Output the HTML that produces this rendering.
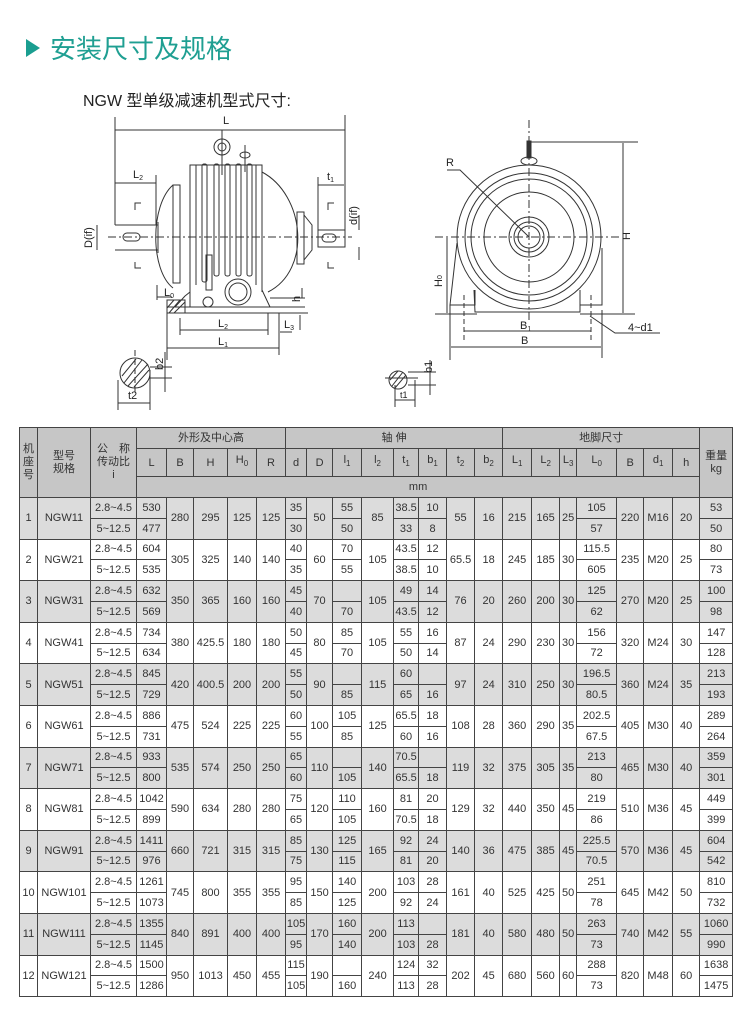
<!DOCTYPE html>
<html><head><meta charset="utf-8">
<style>
body{margin:0;width:750px;height:1015px;background:#fff;position:relative;overflow:hidden;font-family:"Liberation Sans","Noto Sans CJK SC",sans-serif;}
svg{position:absolute;left:0;top:0}
table{position:absolute;left:19px;top:427px;border-collapse:collapse;table-layout:fixed;width:713px;font-size:11px;color:#333;}
td{border:1px solid #444;text-align:center;padding:0;height:19.8px;line-height:12px;overflow:hidden;white-space:nowrap}
tr.h td{background:#c6c6c6}
tbody.g td{background:#dcdcdc}
tbody.w td{background:#fff}
</style></head><body>
<svg width="750" height="420" viewBox="0 0 750 420" font-family="Liberation Sans, Noto Sans CJK SC, sans-serif">
<polygon points="26,39 26,57 40,48" fill="#1a9e90"/>
<text x="50" y="58" font-size="26" fill="#1f9f92" font-family="Liberation Sans, Noto Sans CJK SC, sans-serif">安装尺寸及规格</text>
<text x="83" y="106" font-size="16" fill="#222">NGW 型单级减速机型式尺寸:</text>
<g stroke="#333" stroke-width="1" fill="none">
<!-- L -->
<line x1="115" y1="117" x2="115" y2="225"/><line x1="345" y1="115" x2="345" y2="247"/>
<line x1="115" y1="130" x2="345" y2="130"/>
<!-- body -->
<path d="M173,185 C150,205 150,270 173,288"/>
<path d="M262,172 C305,195 312,270 268,292"/>
<rect x="173" y="185" width="7" height="98"/>
<rect x="297" y="212" width="7" height="52"/>
<path d="M304,215 L312,225 L312,250 L304,260"/>
<path d="M190,292 L190,165 L262,165 L262,292"/>
<line x1="196" y1="165" x2="196" y2="285"/><line x1="256" y1="165" x2="256" y2="285"/>
<rect x="202" y="164" width="5" height="118" rx="2"/>
<rect x="214" y="164" width="5" height="112" rx="2"/>
<rect x="225" y="164" width="5" height="112" rx="2"/>
<rect x="236" y="164" width="5" height="112" rx="2"/>
<rect x="247" y="164" width="5" height="112" rx="2"/>
<rect x="206" y="255" width="6" height="35"/>
<circle cx="222" cy="147" r="8"/><circle cx="222" cy="147" r="4"/>
<line x1="222" y1="130" x2="222" y2="175"/>
<ellipse cx="245" cy="155" rx="5" ry="3"/><line x1="245" y1="145" x2="245" y2="172"/>
<line x1="115" y1="225" x2="158" y2="225"/><line x1="115" y1="250" x2="158" y2="250"/>
<line x1="158" y1="222" x2="158" y2="253"/>
<rect x="123" y="233" width="17" height="8" rx="4"/>
<rect x="318" y="230" width="27" height="17"/>
<rect x="322" y="234" width="14" height="8" rx="4"/>
<line x1="108" y1="237" x2="352" y2="237" stroke-dasharray="8,3,2,3"/>
<!-- base -->
<path d="M167,307 L305,307 M167,313 L308,313 M185,296 L175,307 M190,290 L190,307 M262,290 L270,307 M185,296 L190,292"/>
<path d="M167,300 L185,300 L185,313 L167,313 Z"/>
<path d="M169,313 L180,300 M174,313 L185,302 M167,308 L174,300" />
<circle cx="238" cy="292" r="13"/><circle cx="238" cy="292" r="9"/>
<circle cx="208" cy="302" r="5"/>
<!-- dims -->
<line x1="115" y1="183" x2="156" y2="183"/><line x1="156" y1="175" x2="156" y2="225"/>
<line x1="318" y1="185" x2="344" y2="185"/><line x1="318" y1="177" x2="318" y2="230"/>
<line x1="97" y1="225" x2="97" y2="250"/>
<line x1="359" y1="215" x2="359" y2="230"/><line x1="359" y1="247" x2="359" y2="260"/>
<path d="M135,210 L135,203 L141,203 M135,262 L135,268 L141,268 M328,210 L328,203 L334,203 M328,262 L328,268 L334,268"/>
<line x1="157" y1="297" x2="172" y2="297"/><line x1="157" y1="285" x2="157" y2="300"/>
<line x1="270" y1="298" x2="305" y2="298"/><line x1="302" y1="288" x2="302" y2="298"/>
<line x1="180" y1="318" x2="180" y2="335"/><line x1="268" y1="313" x2="268" y2="335"/>
<line x1="180" y1="330" x2="268" y2="330"/>
<line x1="280" y1="332" x2="292" y2="332"/><line x1="300" y1="315" x2="300" y2="330"/>
<line x1="167" y1="313" x2="167" y2="360"/><line x1="279" y1="313" x2="279" y2="355"/>
<line x1="167" y1="348" x2="279" y2="348"/>
<!-- section -->
<circle cx="135" cy="373" r="15"/>
<path d="M124,383 L142,360 M128,386 L148,364 M122,376 L136,359 M134,387 L149,370" />
<line x1="118" y1="380" x2="118" y2="410"/><line x1="150" y1="370" x2="150" y2="410"/>
<line x1="118" y1="403" x2="150" y2="403"/>
<line x1="150" y1="367" x2="172" y2="367"/><line x1="150" y1="378" x2="172" y2="378"/>
<line x1="165" y1="352" x2="165" y2="392"/>
<line x1="135" y1="350" x2="135" y2="395" stroke-dasharray="6,3"/>
</g>
<g font-size="11" fill="#222">
<text x="223" y="124">L</text>
<text x="133" y="178">L<tspan font-size="7" dy="2">2</tspan></text>
<text x="327" y="180">t<tspan font-size="7" dy="2">1</tspan></text>
<text transform="translate(92,248) rotate(-90)">D(if)</text>
<text transform="translate(357,225) rotate(-90)">d(if)</text>
<text x="164" y="296">L<tspan font-size="7" dy="2">0</tspan></text>
<text transform="translate(300,302) rotate(-90)">h</text>
<text x="218" y="327">L<tspan font-size="7" dy="2">2</tspan></text>
<text x="284" y="328">L<tspan font-size="7" dy="2">3</tspan></text>
<text x="218" y="345">L<tspan font-size="7" dy="2">1</tspan></text>
<text transform="translate(163,370) rotate(-90)">b2</text>
<text x="128" y="399">t2</text>
</g>
<!-- right drawing -->
<g stroke="#333" stroke-width="1" fill="none">
<line x1="529" y1="120" x2="529" y2="322" stroke-dasharray="8,3,2,3"/>
<line x1="435" y1="237" x2="622" y2="237" stroke-dasharray="8,3,2,3"/>
<rect x="527" y="141" width="4" height="17" fill="#333"/>
<ellipse cx="529" cy="161" rx="8" ry="4"/>
<circle cx="529" cy="237" r="72"/>
<circle cx="529" cy="237" r="64"/>
<circle cx="529" cy="237" r="58"/>
<circle cx="529" cy="237" r="45"/>
<circle cx="529" cy="237" r="20"/>
<circle cx="529" cy="237" r="15"/>
<circle cx="529" cy="237" r="11"/>
<path d="M457,243 L450,305 L475,305 L475,290 M450,305 L450,314"/>
<path d="M602,248 L602,305 L580,305 L580,290"/>
<path d="M474,290 L475,312 L580,312 L580,290"/>
<line x1="435" y1="314" x2="477" y2="314"/><line x1="580" y1="314" x2="635" y2="314"/>
<line x1="464" y1="295" x2="464" y2="340" stroke-dasharray="5,3"/>
<line x1="591" y1="295" x2="591" y2="340" stroke-dasharray="5,3"/>
<line x1="450" y1="310" x2="450" y2="360"/><line x1="602" y1="310" x2="602" y2="358"/>
<line x1="464" y1="331" x2="591" y2="331"/>
<line x1="451" y1="347" x2="601" y2="347"/>
<line x1="447" y1="238" x2="447" y2="313"/>
<line x1="531" y1="142" x2="638" y2="142"/>
<line x1="623" y1="143" x2="623" y2="313"/>
<path d="M447,170 L460,170 L529,237"/>
<path d="M590,316 L615,333 L660,333"/>
<circle cx="398" cy="380" r="9"/>
<path d="M392,386 L403,372 M395,388 L406,375 M390,380 L398,371"/>
<line x1="385" y1="378" x2="418" y2="378"/><line x1="408" y1="372" x2="436" y2="372"/><line x1="408" y1="385" x2="436" y2="385"/>
<line x1="430" y1="360" x2="430" y2="395"/>
<line x1="395" y1="385" x2="395" y2="407"/><line x1="415" y1="380" x2="415" y2="407"/>
<line x1="395" y1="400" x2="415" y2="400"/>
</g>
<g font-size="11" fill="#222">
<text x="446" y="166">R</text>
<text transform="translate(630,240) rotate(-90)">H</text>
<text transform="translate(442,287) rotate(-90)">H<tspan font-size="7">0</tspan></text>
<text x="520" y="329">B<tspan font-size="7" dy="2">1</tspan></text>
<text x="521" y="344">B</text>
<text x="628" y="331">4~d1</text>
<text transform="translate(432,373) rotate(-90)">b1</text>
<text x="400" y="398" font-size="9">t1</text>
</g>
</svg>
<table>
<colgroup><col style="width:18px"><col style="width:53px"><col style="width:46px"><col style="width:30px"><col style="width:27px"><col style="width:34px"><col style="width:29px"><col style="width:29px"><col style="width:21px"><col style="width:26px"><col style="width:29px"><col style="width:32px"><col style="width:25px"><col style="width:28px"><col style="width:28px"><col style="width:28px"><col style="width:29px"><col style="width:28px"><col style="width:17px"><col style="width:40px"><col style="width:27px"><col style="width:29px"><col style="width:27px"><col style="width:33px"></colgroup>
<tr class="h" style="height:21px"><td rowspan="3" style="line-height:13px;white-space:normal">机<br>座<br>号</td><td rowspan="3" style="line-height:13px">型号<br>规格</td><td rowspan="3" style="line-height:13px">公　称<br>传动比<br>i</td><td colspan="5">外形及中心高</td><td colspan="8">轴 伸</td><td colspan="7">地脚尺寸</td><td rowspan="3" style="line-height:13px">重量<br>kg</td></tr>
<tr class="h" style="height:28px"><td>L</td><td>B</td><td>H</td><td>H<sub style="font-size:8px">0</sub></td><td>R</td><td>d</td><td>D</td><td>l<sub style="font-size:8px">1</sub></td><td>l<sub style="font-size:8px">2</sub></td><td>t<sub style="font-size:8px">1</sub></td><td>b<sub style="font-size:8px">1</sub></td><td>t<sub style="font-size:8px">2</sub></td><td>b<sub style="font-size:8px">2</sub></td><td>L<sub style="font-size:8px">1</sub></td><td>L<sub style="font-size:8px">2</sub></td><td>L<sub style="font-size:8px">3</sub></td><td>L<sub style="font-size:8px">0</sub></td><td>B</td><td>d<sub style="font-size:8px">1</sub></td><td>h</td></tr>
<tr class="h" style="height:21px"><td colspan="20">mm</td></tr>
<tbody class="g"><tr><td rowspan="2">1</td><td rowspan="2">NGW11</td><td>2.8~4.5</td><td>530</td><td rowspan="2">280</td><td rowspan="2">295</td><td rowspan="2">125</td><td rowspan="2">125</td><td>35</td><td rowspan="2">50</td><td>55</td><td rowspan="2">85</td><td>38.5</td><td>10</td><td rowspan="2">55</td><td rowspan="2">16</td><td rowspan="2">215</td><td rowspan="2">165</td><td rowspan="2">25</td><td>105</td><td rowspan="2">220</td><td rowspan="2">M16</td><td rowspan="2">20</td><td>53</td></tr><tr><td>5~12.5</td><td>477</td><td>30</td><td>50</td><td>33</td><td>8</td><td>57</td><td>50</td></tr></tbody>
<tbody class="w"><tr><td rowspan="2">2</td><td rowspan="2">NGW21</td><td>2.8~4.5</td><td>604</td><td rowspan="2">305</td><td rowspan="2">325</td><td rowspan="2">140</td><td rowspan="2">140</td><td>40</td><td rowspan="2">60</td><td>70</td><td rowspan="2">105</td><td>43.5</td><td>12</td><td rowspan="2">65.5</td><td rowspan="2">18</td><td rowspan="2">245</td><td rowspan="2">185</td><td rowspan="2">30</td><td>115.5</td><td rowspan="2">235</td><td rowspan="2">M20</td><td rowspan="2">25</td><td>80</td></tr><tr><td>5~12.5</td><td>535</td><td>35</td><td>55</td><td>38.5</td><td>10</td><td>605</td><td>73</td></tr></tbody>
<tbody class="g"><tr><td rowspan="2">3</td><td rowspan="2">NGW31</td><td>2.8~4.5</td><td>632</td><td rowspan="2">350</td><td rowspan="2">365</td><td rowspan="2">160</td><td rowspan="2">160</td><td>45</td><td rowspan="2">70</td><td></td><td rowspan="2">105</td><td>49</td><td>14</td><td rowspan="2">76</td><td rowspan="2">20</td><td rowspan="2">260</td><td rowspan="2">200</td><td rowspan="2">30</td><td>125</td><td rowspan="2">270</td><td rowspan="2">M20</td><td rowspan="2">25</td><td>100</td></tr><tr><td>5~12.5</td><td>569</td><td>40</td><td>70</td><td>43.5</td><td>12</td><td>62</td><td>98</td></tr></tbody>
<tbody class="w"><tr><td rowspan="2">4</td><td rowspan="2">NGW41</td><td>2.8~4.5</td><td>734</td><td rowspan="2">380</td><td rowspan="2">425.5</td><td rowspan="2">180</td><td rowspan="2">180</td><td>50</td><td rowspan="2">80</td><td>85</td><td rowspan="2">105</td><td>55</td><td>16</td><td rowspan="2">87</td><td rowspan="2">24</td><td rowspan="2">290</td><td rowspan="2">230</td><td rowspan="2">30</td><td>156</td><td rowspan="2">320</td><td rowspan="2">M24</td><td rowspan="2">30</td><td>147</td></tr><tr><td>5~12.5</td><td>634</td><td>45</td><td>70</td><td>50</td><td>14</td><td>72</td><td>128</td></tr></tbody>
<tbody class="g"><tr><td rowspan="2">5</td><td rowspan="2">NGW51</td><td>2.8~4.5</td><td>845</td><td rowspan="2">420</td><td rowspan="2">400.5</td><td rowspan="2">200</td><td rowspan="2">200</td><td>55</td><td rowspan="2">90</td><td></td><td rowspan="2">115</td><td>60</td><td></td><td rowspan="2">97</td><td rowspan="2">24</td><td rowspan="2">310</td><td rowspan="2">250</td><td rowspan="2">30</td><td>196.5</td><td rowspan="2">360</td><td rowspan="2">M24</td><td rowspan="2">35</td><td>213</td></tr><tr><td>5~12.5</td><td>729</td><td>50</td><td>85</td><td>65</td><td>16</td><td>80.5</td><td>193</td></tr></tbody>
<tbody class="w"><tr><td rowspan="2">6</td><td rowspan="2">NGW61</td><td>2.8~4.5</td><td>886</td><td rowspan="2">475</td><td rowspan="2">524</td><td rowspan="2">225</td><td rowspan="2">225</td><td>60</td><td rowspan="2">100</td><td>105</td><td rowspan="2">125</td><td>65.5</td><td>18</td><td rowspan="2">108</td><td rowspan="2">28</td><td rowspan="2">360</td><td rowspan="2">290</td><td rowspan="2">35</td><td>202.5</td><td rowspan="2">405</td><td rowspan="2">M30</td><td rowspan="2">40</td><td>289</td></tr><tr><td>5~12.5</td><td>731</td><td>55</td><td>85</td><td>60</td><td>16</td><td>67.5</td><td>264</td></tr></tbody>
<tbody class="g"><tr><td rowspan="2">7</td><td rowspan="2">NGW71</td><td>2.8~4.5</td><td>933</td><td rowspan="2">535</td><td rowspan="2">574</td><td rowspan="2">250</td><td rowspan="2">250</td><td>65</td><td rowspan="2">110</td><td></td><td rowspan="2">140</td><td>70.5</td><td></td><td rowspan="2">119</td><td rowspan="2">32</td><td rowspan="2">375</td><td rowspan="2">305</td><td rowspan="2">35</td><td>213</td><td rowspan="2">465</td><td rowspan="2">M30</td><td rowspan="2">40</td><td>359</td></tr><tr><td>5~12.5</td><td>800</td><td>60</td><td>105</td><td>65.5</td><td>18</td><td>80</td><td>301</td></tr></tbody>
<tbody class="w"><tr><td rowspan="2">8</td><td rowspan="2">NGW81</td><td>2.8~4.5</td><td>1042</td><td rowspan="2">590</td><td rowspan="2">634</td><td rowspan="2">280</td><td rowspan="2">280</td><td>75</td><td rowspan="2">120</td><td>110</td><td rowspan="2">160</td><td>81</td><td>20</td><td rowspan="2">129</td><td rowspan="2">32</td><td rowspan="2">440</td><td rowspan="2">350</td><td rowspan="2">45</td><td>219</td><td rowspan="2">510</td><td rowspan="2">M36</td><td rowspan="2">45</td><td>449</td></tr><tr><td>5~12.5</td><td>899</td><td>65</td><td>105</td><td>70.5</td><td>18</td><td>86</td><td>399</td></tr></tbody>
<tbody class="g"><tr><td rowspan="2">9</td><td rowspan="2">NGW91</td><td>2.8~4.5</td><td>1411</td><td rowspan="2">660</td><td rowspan="2">721</td><td rowspan="2">315</td><td rowspan="2">315</td><td>85</td><td rowspan="2">130</td><td>125</td><td rowspan="2">165</td><td>92</td><td>24</td><td rowspan="2">140</td><td rowspan="2">36</td><td rowspan="2">475</td><td rowspan="2">385</td><td rowspan="2">45</td><td>225.5</td><td rowspan="2">570</td><td rowspan="2">M36</td><td rowspan="2">45</td><td>604</td></tr><tr><td>5~12.5</td><td>976</td><td>75</td><td>115</td><td>81</td><td>20</td><td>70.5</td><td>542</td></tr></tbody>
<tbody class="w"><tr><td rowspan="2">10</td><td rowspan="2">NGW101</td><td>2.8~4.5</td><td>1261</td><td rowspan="2">745</td><td rowspan="2">800</td><td rowspan="2">355</td><td rowspan="2">355</td><td>95</td><td rowspan="2">150</td><td>140</td><td rowspan="2">200</td><td>103</td><td>28</td><td rowspan="2">161</td><td rowspan="2">40</td><td rowspan="2">525</td><td rowspan="2">425</td><td rowspan="2">50</td><td>251</td><td rowspan="2">645</td><td rowspan="2">M42</td><td rowspan="2">50</td><td>810</td></tr><tr><td>5~12.5</td><td>1073</td><td>85</td><td>125</td><td>92</td><td>24</td><td>78</td><td>732</td></tr></tbody>
<tbody class="g"><tr><td rowspan="2">11</td><td rowspan="2">NGW111</td><td>2.8~4.5</td><td>1355</td><td rowspan="2">840</td><td rowspan="2">891</td><td rowspan="2">400</td><td rowspan="2">400</td><td>105</td><td rowspan="2">170</td><td>160</td><td rowspan="2">200</td><td>113</td><td></td><td rowspan="2">181</td><td rowspan="2">40</td><td rowspan="2">580</td><td rowspan="2">480</td><td rowspan="2">50</td><td>263</td><td rowspan="2">740</td><td rowspan="2">M42</td><td rowspan="2">55</td><td>1060</td></tr><tr><td>5~12.5</td><td>1145</td><td>95</td><td>140</td><td>103</td><td>28</td><td>73</td><td>990</td></tr></tbody>
<tbody class="w"><tr><td rowspan="2">12</td><td rowspan="2">NGW121</td><td>2.8~4.5</td><td>1500</td><td rowspan="2">950</td><td rowspan="2">1013</td><td rowspan="2">450</td><td rowspan="2">455</td><td>115</td><td rowspan="2">190</td><td></td><td rowspan="2">240</td><td>124</td><td>32</td><td rowspan="2">202</td><td rowspan="2">45</td><td rowspan="2">680</td><td rowspan="2">560</td><td rowspan="2">60</td><td>288</td><td rowspan="2">820</td><td rowspan="2">M48</td><td rowspan="2">60</td><td>1638</td></tr><tr><td>5~12.5</td><td>1286</td><td>105</td><td>160</td><td>113</td><td>28</td><td>73</td><td>1475</td></tr></tbody>
</table>
</body></html>
